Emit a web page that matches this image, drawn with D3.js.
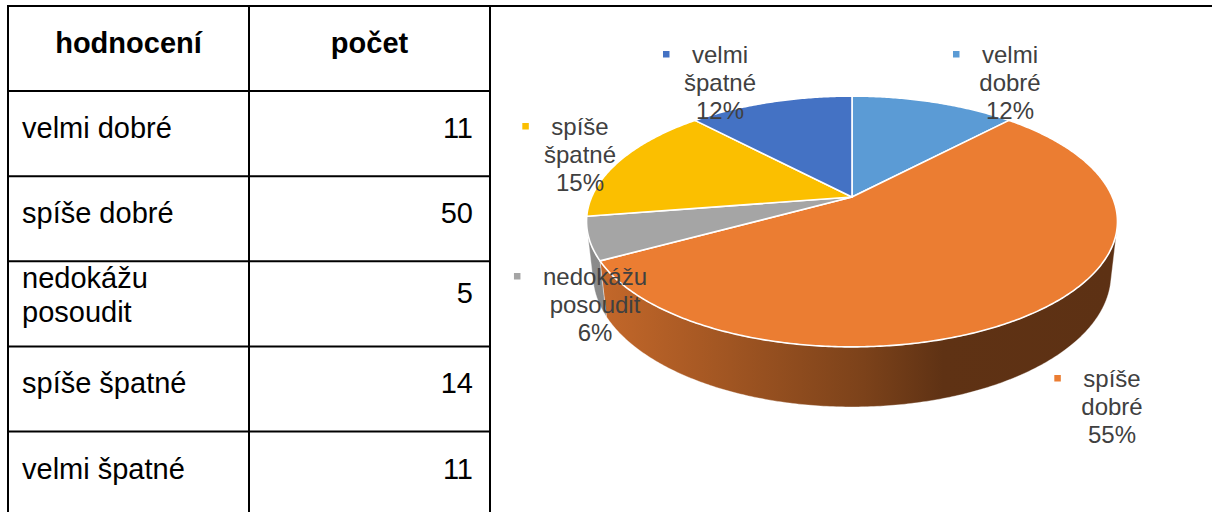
<!DOCTYPE html>
<html>
<head>
<meta charset="utf-8">
<script src="https://cdn.jsdelivr.net/npm/d3@7"></script>
<style>
  body { margin: 0; background: #fff; }
  svg { display: block; }
</style>
</head>
<body>
<script>
const categories = ["velmi dobré", "spíše dobré", "nedokážu posoudit", "spíše špatné", "velmi špatné"];
const counts = [11, 50, 5, 14, 11];
const pctLabels = ["12%", "55%", "6%", "15%", "12%"];
const tableHeader = ["hodnocení", "počet"];
const colors = ["#5B9BD5", "#EB7D32", "#A5A5A5", "#FBBF00", "#4472C4"];

// where Excel put each data label (centre x, first baseline)
const labelPos = [[1010, 63], [1112, 387], [595, 285], [580, 135], [720, 63]];

const width = 1212;
const height = 512;

const svg = d3.select("body").append("svg")
    .attr("width", width)
    .attr("height", height);

// ---------- table ----------
const tableFont = "'Liberation Sans', Arial, sans-serif";
const colX = [8, 249, 490];
const nRows = categories.length + 1;
const rowY = d3.scaleLinear().domain([0, nRows]).range([6, 6 + nRows * 85.1]);

const grid = svg.append("g")
    .attr("stroke", "#000")
    .attr("stroke-width", 2);

d3.range(nRows + 1).forEach(i => {
    grid.append("line")
        .attr("x1", colX[0] - 1).attr("x2", i === 0 ? width : colX[2] + 1)
        .attr("y1", rowY(i)).attr("y2", rowY(i));
});
colX.forEach(x => {
    grid.append("line")
        .attr("x1", x).attr("x2", x)
        .attr("y1", rowY(0)).attr("y2", rowY(nRows));
});

svg.selectAll(".head")
    .data(tableHeader)
    .enter()
    .append("text")
    .attr("class", "head")
    .attr("x", (d, i) => (colX[i] + colX[i + 1]) / 2)
    .attr("y", rowY(0) + 47)
    .style("font-family", tableFont)
    .style("font-size", "29px")
    .style("font-weight", "bold")
    .style("text-anchor", "middle")
    .text(d => d);

categories.forEach((c, i) => {
    const top = rowY(i + 1);
    const t = svg.append("text")
        .style("font-family", tableFont)
        .style("font-size", "29px")
        .attr("x", colX[0] + 14)
        .attr("y", top + 47)
        .text(c);
    let lines = 1;
    if (t.node().getComputedTextLength() > colX[1] - colX[0] - 24) {
        const words = c.split(" ");
        t.text(null);
        words.forEach((w, k) => {
            t.append("tspan")
                .attr("x", colX[0] + 14)
                .attr("y", top + 27 + k * 34)
                .text(w);
        });
        lines = words.length;
    }
    svg.append("text")
        .style("font-family", tableFont)
        .style("font-size", "29px")
        .style("text-anchor", "end")
        .attr("x", colX[2] - 17)
        .attr("y", top + (lines > 1 ? 42 : 47))
        .text(counts[i]);
});

// ---------- 3D pie ----------
const cx = 852, cy = 197;          // projected centre of the top face
const F = 1182, dist = 4.54;       // focal length, camera distance (radius = 1)
const tilt = 27.6 * Math.PI / 180;
const thick = 0.231;
const sinA = Math.sin(tilt), cosA = Math.cos(tilt);

function proj(theta, y) {
    const X = Math.sin(theta), Z = Math.cos(theta);
    const yc = y * cosA + Z * sinA;
    const depth = dist - y * sinA + Z * cosA;
    return [cx + F * X / depth, cy - F * yc / depth];
}

function rim(a0, a1, y) {
    const n = Math.max(2, Math.ceil((a1 - a0) / 0.01));
    return d3.range(n + 1).map(k => proj(a0 + (a1 - a0) * k / n, y));
}

const pie = d3.pie().sort(null).value(d => d);
const arcs = pie(counts);
const line = d3.line();

// side wall visible where the outward normal faces the camera
const vis0 = Math.acos(-1 / (dist * cosA));
const vis1 = 2 * Math.PI - vis0;

const defs = svg.append("defs");
const xSide = d3.scaleLinear().domain([0, 1]).range([proj(Math.PI / 2, 0)[0] - 530, proj(Math.PI / 2, 0)[0]]);

const sides = svg.append("g");
arcs.forEach((a, i) => {
    const s0 = Math.max(a.startAngle, vis0);
    const s1 = Math.min(a.endAngle, vis1);
    if (s1 <= s0) return;
    const base = d3.color(colors[i]);
    const grad = defs.append("linearGradient")
        .attr("id", "side" + i)
        .attr("gradientUnits", "userSpaceOnUse")
        .attr("x1", xSide(0)).attr("x2", xSide(1))
        .attr("y1", 0).attr("y2", 0);
    [[0, 0.45], [0.53, 1.8], [0.68, 2.55], [1, 2.6]].forEach(([o, k]) => {
        grad.append("stop")
            .attr("offset", o)
            .attr("stop-color", base.darker(k));
    });
    const pts = rim(s0, s1, 0).concat(rim(s0, s1, -thick).reverse());
    sides.append("path")
        .attr("d", line(pts) + "Z")
        .style("fill", `url(#side${i})`)
        .style("stroke", "#fff")
        .style("stroke-width", 0.6)
        .style("stroke-opacity", 0.6);
});

svg.append("g")
    .selectAll("path")
    .data(arcs)
    .enter()
    .append("path")
    .attr("d", a => line([[cx, cy]].concat(rim(a.startAngle, a.endAngle, 0))) + "Z")
    .style("fill", (a, i) => colors[i])
    .style("stroke", "#fff")
    .style("stroke-width", 1.6)
    .style("stroke-linejoin", "round");

// ---------- data labels ----------
const labelFont = "'Liberation Sans', Arial, sans-serif";
arcs.forEach((a, i) => {
    const [lx, ly] = labelPos[i];
    const rows = categories[i].split(" ").concat([pctLabels[i]]);
    const t = svg.append("text")
        .style("font-family", labelFont)
        .style("font-size", "24px")
        .style("fill", "#404040")
        .style("text-anchor", "middle");
    rows.forEach((r, k) => {
        t.append("tspan")
            .attr("x", lx)
            .attr("y", ly + k * 27.8)
            .text(r);
    });
    const firstW = t.select("tspan").node().getComputedTextLength();
    svg.append("rect")
        .attr("x", lx - firstW / 2 - 29)
        .attr("y", ly - 12)
        .attr("width", 6.5)
        .attr("height", 6.5)
        .style("fill", colors[i]);
});
</script>
</body>
</html>
